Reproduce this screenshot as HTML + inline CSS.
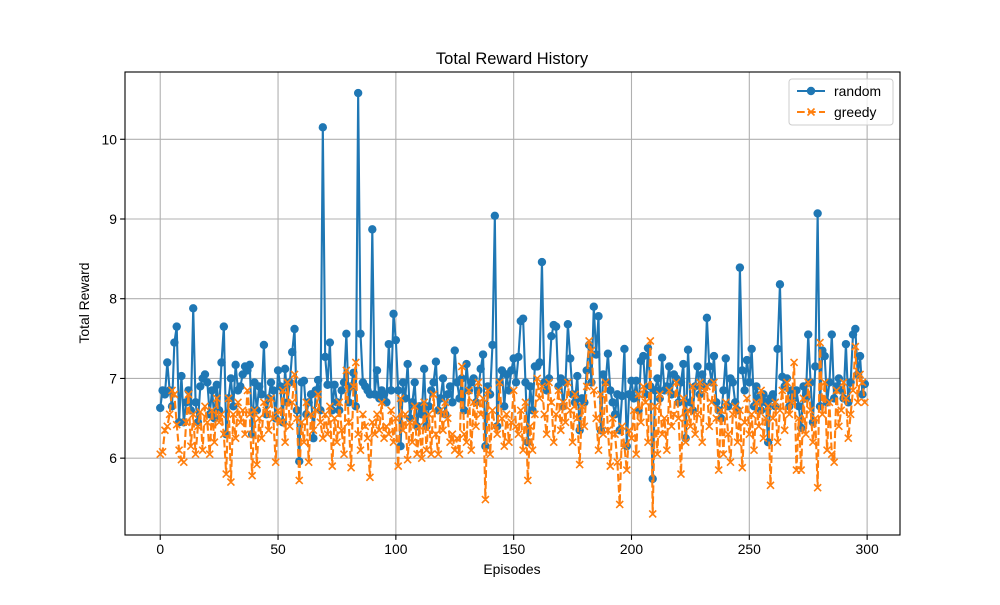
<!DOCTYPE html>
<html><head><meta charset="utf-8"><style>
body{margin:0;background:#fff}
svg text{font-family:"Liberation Sans","DejaVu Sans",sans-serif;fill:#000}
</style></head><body>
<svg id="chart" width="1000" height="600" xmlns="http://www.w3.org/2000/svg">
<rect width="1000" height="600" fill="#fff"/>
<g id="grid"></g>
<g id="series"></g>
<rect x="125" y="72" width="775" height="463" fill="none" stroke="#000" stroke-width="1.1"/>
<g id="ticks"></g>
<text x="512" y="64" font-size="16.5" text-anchor="middle">Total Reward History</text>
<text x="512" y="574" font-size="13.9" text-anchor="middle">Episodes</text>
<text x="89" y="303" font-size="13.9" text-anchor="middle" transform="rotate(-90 89 303)">Total Reward</text>
<g>
<rect x="789" y="79" width="104" height="46" rx="3" fill="#fff" fill-opacity="0.8" stroke="#ccc" stroke-width="1"/>
<g>
<line x1="797" y1="91" x2="825" y2="91" stroke="#1f77b4" stroke-width="2.1"/>
<circle cx="811" cy="91" r="4.2" fill="#1f77b4"/>
<text x="834" y="96" font-size="13.9">random</text></g>
<g>
<line x1="797" y1="112" x2="825" y2="112" stroke="#ff7f0e" stroke-width="2.1" stroke-dasharray="7.7,3.3"/>
<path d="M807.5,108.5L814.5,115.5M814.5,108.5L807.5,115.5" stroke="#ff7f0e" stroke-width="1.6"/>
<text x="834" y="117" font-size="13.9">greedy</text></g>
</g>
</svg>
<script>
const xTicks=[0,50,100,150,200,250,300];
const yTicks=[6,7,8,9,10];
const randomRewards=[6.63,6.85,6.80,7.20,6.85,6.65,7.45,7.65,6.45,7.03,
6.45,6.70,6.85,6.60,7.88,6.70,6.45,6.90,7.00,7.05,
6.95,6.55,6.85,6.50,6.92,6.60,7.20,7.65,6.30,6.75,
7.00,6.65,7.17,6.85,6.90,7.05,7.15,7.10,7.17,6.30,
6.95,6.60,6.90,6.80,7.42,6.55,6.75,6.95,6.85,6.50,
7.10,6.90,6.45,7.12,6.70,6.95,7.33,7.62,6.60,5.96,
6.95,6.97,6.55,6.70,6.80,6.25,6.85,6.98,6.60,10.15,
7.27,6.92,7.45,6.60,6.92,6.70,6.60,6.85,6.95,7.56,
6.70,6.90,7.07,6.65,10.58,7.56,6.95,6.90,6.85,6.80,
8.87,6.80,7.10,6.75,6.85,6.80,6.70,7.43,6.85,7.81,
7.48,6.85,6.15,6.95,6.75,7.18,6.50,6.70,6.95,6.40,
6.65,6.55,7.12,6.40,6.65,6.85,6.95,7.21,6.60,6.75,
7.00,6.55,6.80,6.90,6.70,7.35,6.95,6.75,7.00,6.60,
7.18,6.85,6.95,7.00,6.70,6.85,7.12,7.30,6.15,6.90,
6.80,7.42,9.04,6.40,6.95,7.10,6.65,7.05,6.85,7.10,
7.25,6.95,7.27,7.72,7.75,6.95,6.20,6.90,6.60,7.15,
7.15,7.20,8.46,6.95,6.85,7.00,7.53,7.67,7.65,6.90,
7.00,6.65,6.95,7.68,7.25,6.80,6.70,7.03,6.35,6.75,
6.70,7.10,7.42,6.95,7.90,7.30,7.78,6.35,7.05,6.95,
7.31,6.85,6.70,6.55,6.80,6.35,6.78,7.37,6.15,6.80,
6.97,6.75,6.97,6.60,7.22,7.28,6.80,7.38,6.90,5.74,
6.85,7.00,6.75,7.26,6.85,6.90,7.15,6.80,7.05,7.00,
6.70,6.95,7.18,6.25,7.36,6.70,6.60,6.90,7.15,6.80,
7.05,6.90,7.76,7.15,6.95,7.28,6.70,6.60,6.50,6.85,
7.25,6.65,7.00,6.95,6.70,6.60,8.39,7.10,6.85,7.23,
6.95,7.37,6.65,6.90,6.75,6.60,6.80,6.70,6.20,6.75,
6.80,6.65,7.37,8.18,7.02,6.90,7.00,6.65,6.85,6.75,
6.85,6.65,6.38,6.90,6.75,7.55,6.95,6.45,7.15,9.07,
6.65,7.35,7.28,6.70,6.95,7.55,6.75,6.90,7.00,6.85,
6.75,7.43,6.70,6.95,7.55,7.62,7.05,7.28,6.80,6.93];
const greedyRewards=[6.05,6.08,6.35,6.40,6.55,6.85,6.80,6.42,6.10,5.98,
5.95,6.45,6.80,6.15,6.55,6.05,6.40,6.58,6.10,6.65,
6.45,6.05,6.60,6.20,6.75,6.45,6.55,6.30,5.80,6.75,
5.70,6.55,6.25,6.70,6.45,6.60,6.30,6.85,6.55,5.78,
6.60,5.92,6.50,6.25,6.70,6.60,6.35,6.75,6.50,5.95,
6.60,6.45,6.85,6.20,6.95,6.40,6.70,7.05,6.50,5.72,
6.45,6.20,6.70,5.95,6.55,6.35,6.60,6.80,6.45,6.25,
6.55,6.30,6.65,5.90,6.50,6.20,6.70,6.35,6.05,7.10,
6.45,5.88,6.90,7.20,6.30,6.10,6.55,6.40,6.25,5.76,
6.45,6.30,6.55,6.35,6.70,6.25,6.40,6.30,6.60,6.20,
6.50,5.90,6.75,6.35,6.55,5.98,6.45,6.20,6.65,6.05,
6.40,6.00,6.70,6.10,6.55,6.05,6.80,6.30,6.05,6.60,
6.35,6.70,6.50,6.20,6.30,6.10,6.25,6.05,7.15,6.30,
6.20,6.85,6.10,6.70,6.40,6.95,6.55,6.75,5.48,6.85,
6.05,6.60,6.40,6.30,6.95,6.50,6.15,6.55,6.20,6.45,
6.85,6.40,6.30,6.60,6.10,6.70,5.72,6.40,6.10,6.55,
7.00,6.75,6.90,6.55,6.30,6.95,6.70,6.20,6.55,6.85,
6.35,6.70,6.45,6.95,6.60,6.20,6.80,6.50,5.92,6.65,
6.40,6.90,7.47,7.35,6.85,6.50,6.10,6.80,6.30,6.95,
6.35,5.90,6.50,6.30,5.95,5.42,6.40,6.15,5.85,6.35,
6.25,6.60,6.05,6.80,6.45,6.90,6.70,6.20,7.47,5.30,
6.65,6.05,6.80,6.30,6.50,6.10,6.85,6.40,6.55,6.95,
6.50,5.80,6.75,6.20,6.60,6.40,6.90,6.30,6.55,6.95,
6.20,6.85,6.90,6.40,6.70,6.95,6.50,5.85,6.60,6.05,
6.70,6.30,5.95,6.55,6.65,6.20,6.60,5.88,6.45,6.75,
6.30,6.55,6.10,6.70,6.40,6.85,6.25,6.50,6.65,5.66,
6.50,6.70,6.20,6.60,6.85,6.35,6.95,6.55,6.70,7.20,
5.85,6.50,5.85,6.75,6.30,6.95,6.60,6.20,6.50,5.63,
7.45,6.55,6.95,6.10,6.70,6.05,5.95,6.85,6.40,6.60,
6.95,6.75,6.25,6.55,6.85,7.40,6.70,7.05,6.95,6.70];

const NS='http://www.w3.org/2000/svg';
const L=125,R=900,T=72,B=535;
const n=randomRewards.length;
const xMin=-(n-1)*0.05,xMax=(n-1)*1.05;
const all=randomRewards.concat(greedyRewards);
const dMin=Math.min(...all),dMax=Math.max(...all),pad=(dMax-dMin)*0.05;
const yMin=dMin-pad,yMax=dMax+pad;
const sx=v=>L+(v-xMin)/(xMax-xMin)*(R-L);
const sy=v=>B-(v-yMin)/(yMax-yMin)*(B-T);
function mk(tag,attrs,parent){const e=document.createElementNS(NS,tag);for(const k in attrs)e.setAttribute(k,attrs[k]);parent.appendChild(e);return e;}
const grid=document.getElementById('grid'),ticks=document.getElementById('ticks'),series=document.getElementById('series');
xTicks.forEach(t=>{const x=sx(t);
 const g=mk('line',{x1:x,x2:x,y1:T,y2:B,stroke:'#b0b0b0','stroke-width':1.1},grid);
 
 
 const tk=mk('line',{x1:x,x2:x,y1:B,y2:B+4.9,stroke:'#000','stroke-width':1.1},ticks);
 
 
 const tx=mk('text',{x:x,y:B+19,'font-size':13.9,'text-anchor':'middle'},ticks);tx.textContent=t;
 
 
});
yTicks.forEach(t=>{const y=sy(t);
 const g=mk('line',{x1:L,x2:R,y1:y,y2:y,stroke:'#b0b0b0','stroke-width':1.1},grid);
 
 
 const tk=mk('line',{x1:L-4.9,x2:L,y1:y,y2:y,stroke:'#000','stroke-width':1.1},ticks);
 
 
 const tx=mk('text',{x:L-8,y:y+5,'font-size':13.9,'text-anchor':'end'},ticks);tx.textContent=t;
 
 
});
function draw(vals,color,dash,marker,name){
 const g=mk('g',{},series);
 
 
 const pts=vals.map((v,i)=>sx(i).toFixed(2)+','+sy(v).toFixed(2)).join(' ');
 const pl=mk('polyline',{points:pts,fill:'none',stroke:color,'stroke-width':2.1,'stroke-linejoin':'round'},g);
 if(dash)pl.setAttribute('stroke-dasharray',dash);
 
 
 let d='';
 vals.forEach((v,i)=>{const x=sx(i),y=sy(v);
  if(marker==='o'){const c=mk('circle',{cx:x,cy:y,r:4.2,fill:color},g);
   
   }
  else{d+=`M${x-3.5},${y-3.5}L${x+3.5},${y+3.5}M${x+3.5},${y-3.5}L${x-3.5},${y+3.5}`;}
 });
 if(d){const p=mk('path',{d:d,stroke:color,'stroke-width':1.6,fill:'none'},g);
  
  }
}
draw(randomRewards,'#1f77b4',null,'o','random');
draw(greedyRewards,'#ff7f0e','7.7,3.3','x','greedy');
</script>
</body></html>
